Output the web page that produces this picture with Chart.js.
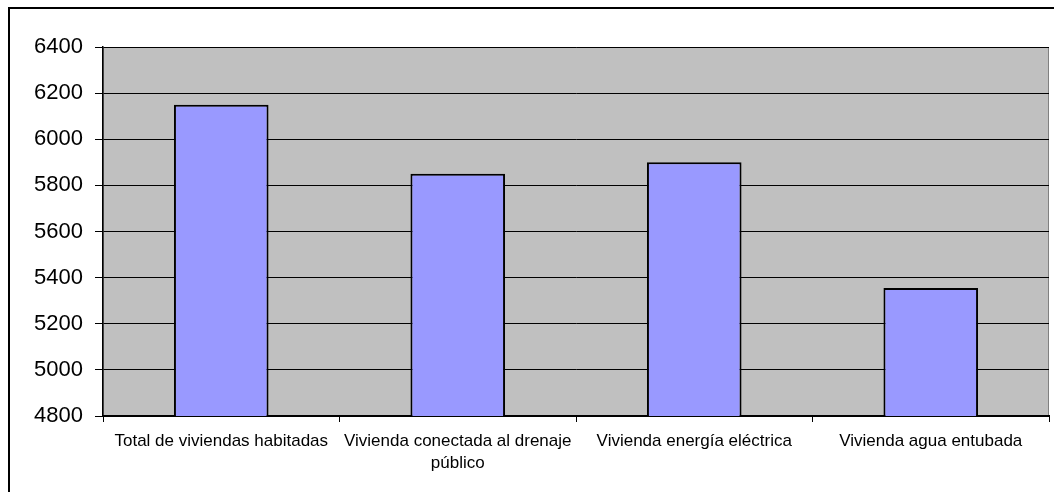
<!DOCTYPE html>
<html>
<head>
<meta charset="utf-8">
<script src="https://cdn.jsdelivr.net/npm/chart.js@4/dist/chart.umd.min.js"></script>
<style>
  html, body { margin: 0; padding: 0; background: #fff; }
  #wrap { position: relative; width: 1054px; height: 492px; }
</style>
</head>
<body>
<div id="wrap"><canvas id="c" width="1054" height="492"></canvas></div>
<script>
// Viviendas por servicio disponible
const categories = [
  'Total de viviendas habitadas',
  ['Vivienda conectada al drenaje', 'público'],
  'Vivienda energía eléctrica',
  'Vivienda agua entubada'
];
const viviendas = [6150, 5850, 5900, 5355];
const yTicks = [4800, 5000, 5200, 5400, 5600, 5800, 6000, 6200, 6400];

const FONT = '"Liberation Sans", Arial, sans-serif';

// Gray plot background, plot border and outer frame
const decor = {
  id: 'decor',
  beforeDraw(chart) {
    const { ctx, chartArea: a } = chart;
    ctx.save();
    ctx.fillStyle = '#fff';
    ctx.fillRect(0, 0, chart.width, chart.height);
    ctx.fillStyle = '#C0C0C0';
    ctx.fillRect(a.left, a.top, a.right - a.left, a.bottom - a.top);
    ctx.strokeStyle = '#808080';
    ctx.lineWidth = 1;
    ctx.strokeRect(a.left + 0.5, a.top + 0.5, a.right - a.left - 1, a.bottom - a.top - 1);
    ctx.strokeStyle = '#000';
    ctx.lineWidth = 2;
    ctx.strokeRect(9, 8, chart.width + 10, chart.height + 10);
    ctx.restore();
  }
};

new Chart(document.getElementById('c'), {
  type: 'bar',
  data: {
    labels: categories,
    datasets: [{
      data: viviendas,
      backgroundColor: '#9999FF',
      borderColor: '#000',
      borderWidth: 2,
      barPercentage: 0.4,
      categoryPercentage: 1.0
    }]
  },
  options: {
    responsive: false,
    animation: false,
    layout: { padding: { left: 0, top: 47, right: 5, bottom: 0 } },
    plugins: { legend: { display: false }, tooltip: { enabled: false } },
    scales: {
      y: {
        min: yTicks[0],
        max: yTicks[yTicks.length - 1],
        afterBuildTicks(scale) { scale.ticks = yTicks.map(v => ({ value: v })); },
        afterFit(scale) { scale.width = 103; },
        ticks: {
          color: '#000',
          font: { family: FONT, size: 22 },
          padding: 12,
          callback: v => String(v)
        },
        grid: { color: '#000', lineWidth: 1, tickLength: 8, drawTicks: true },
        border: { color: '#000', width: 1.5 }
      },
      x: {
        afterFit(scale) { scale.height = 76; },
        ticks: { color: '#000', font: { family: FONT, size: 17, lineHeight: 1.25 }, padding: 9, maxRotation: 0, autoSkip: false },
        grid: { display: true, drawOnChartArea: false, drawTicks: true, tickLength: 6, color: '#000', offset: true },
        border: { color: '#000', width: 2 }
      }
    }
  },
  plugins: [decor]
});
</script>
</body>
</html>
